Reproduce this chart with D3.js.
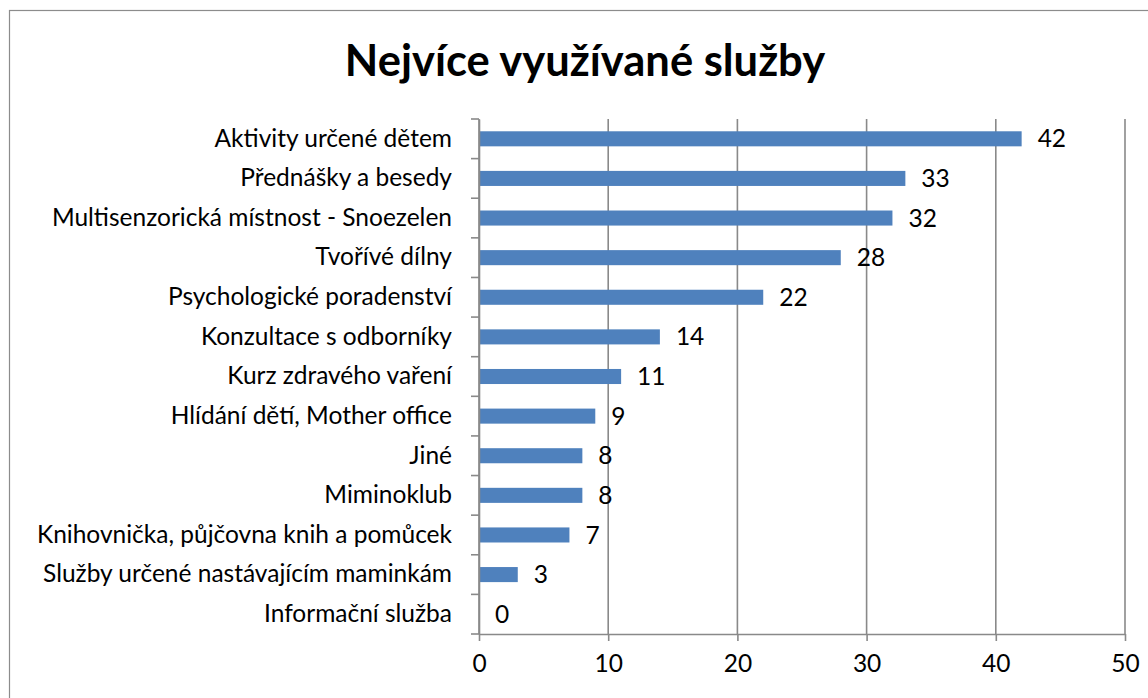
<!DOCTYPE html>
<html>
<head>
<meta charset="utf-8">
<script src="https://cdn.jsdelivr.net/npm/d3@7"></script>
<style>
  body { margin: 0; background: #fff; }
  text { font-family: Lato, "Open Sans", sans-serif; fill: #000; }
</style>
</head>
<body>
<div id="chart"></div>
<script>
// data
var categories = [
    "Aktivity určené dětem",
    "Přednášky a besedy",
    "Multisenzorická místnost - Snoezelen",
    "Tvořívé dílny",
    "Psychologické poradenství",
    "Konzultace s odborníky",
    "Kurz zdravého vaření",
    "Hlídání dětí, Mother office",
    "Jiné",
    "Miminoklub",
    "Knihovnička, půjčovna knih a pomůcek",
    "Služby určené nastávajícím maminkám",
    "Informační služba"
];
var values = [42, 33, 32, 28, 22, 14, 11, 9, 8, 8, 7, 3, 0];
var xTicks = [0, 10, 20, 30, 40, 50];
var title = "Nejvíce využívané služby";

// dimensions and margins
var W = 1148, H = 698;
var margin = {top: 119, right: 23, bottom: 64, left: 479},
    width = W - margin.left - margin.right,
    height = H - margin.top - margin.bottom;

var gridColor = "#898989";
var fontSize = "24.5px";

var svg = d3.select("#chart").append("svg")
    .attr("width", W)
    .attr("height", H);

// chart frame (runs off the right and bottom edge)
svg.append("rect")
    .attr("x", 9.5)
    .attr("y", 10.5)
    .attr("width", W)
    .attr("height", H)
    .attr("fill", "none")
    .attr("stroke", "#8c8c8c")
    .attr("stroke-width", 1.2);

// title
svg.append("text")
    .attr("x", 585)
    .attr("y", 76)
    .attr("text-anchor", "middle")
    .style("font-size", "43.5px")
    .style("font-weight", "bold")
    .text(title);

var g = svg.append("g")
    .attr("transform", "translate(" + margin.left + "," + margin.top + ")");

// scales
var x = d3.scaleLinear()
    .domain([0, 50])
    .range([0, width]);
var y = d3.scaleBand()
    .domain(categories)
    .range([0, height])
    .paddingInner(0.62)
    .paddingOuter(0.31);

// vertical gridlines
g.selectAll(".grid")
    .data(xTicks)
    .enter().append("line")
    .attr("class", "grid")
    .attr("x1", function(d) { return x(d); })
    .attr("x2", function(d) { return x(d); })
    .attr("y1", 0)
    .attr("y2", height)
    .attr("stroke", gridColor)
    .attr("stroke-width", 1.6);

// bars
g.selectAll(".bar")
    .data(values)
    .enter().append("rect")
    .attr("class", "bar")
    .attr("x", x(0))
    .attr("y", function(d, i) { return y(categories[i]); })
    .attr("width", function(d) { return x(d) - x(0); })
    .attr("height", y.bandwidth())
    .attr("fill", "#4f81bd");

// value labels
g.selectAll(".val")
    .data(values)
    .enter().append("text")
    .attr("class", "val")
    .attr("x", function(d) { return x(d) + 16; })
    .attr("y", function(d, i) { return y(categories[i]) + y.bandwidth() / 2; })
    .attr("dy", "0.35em")
    .style("font-size", fontSize)
    .text(function(d) { return d; });

// y axis (labels only, ticks drawn between categories)
var yAxis = g.append("g")
    .call(d3.axisLeft(y).tickSize(0).tickPadding(27));
yAxis.select(".domain")
    .attr("stroke", gridColor)
    .attr("stroke-width", 1.6);
yAxis.selectAll("text")
    .style("font-size", fontSize)
    .style("font-family", "Lato, 'Open Sans', sans-serif");

// category boundary ticks
var bounds = categories.map(function(c) { return y(c) + y.bandwidth() / 2 - y.step() / 2; });
bounds.push(height);
g.selectAll(".ytick")
    .data(bounds)
    .enter().append("line")
    .attr("class", "ytick")
    .attr("x1", -8)
    .attr("x2", 0)
    .attr("y1", function(d) { return d; })
    .attr("y2", function(d) { return d; })
    .attr("stroke", gridColor)
    .attr("stroke-width", 1.6);

// x axis
var xAxis = g.append("g")
    .attr("transform", "translate(0," + height + ")")
    .call(d3.axisBottom(x).tickValues(xTicks).tickSizeInner(7).tickSizeOuter(0).tickPadding(14));
xAxis.select(".domain")
    .attr("stroke", gridColor)
    .attr("stroke-width", 1.6);
xAxis.selectAll("line")
    .attr("stroke", gridColor)
    .attr("stroke-width", 1.6);
xAxis.selectAll("text")
    .style("font-size", fontSize)
    .style("font-family", "Lato, 'Open Sans', sans-serif");
</script>
</body>
</html>
